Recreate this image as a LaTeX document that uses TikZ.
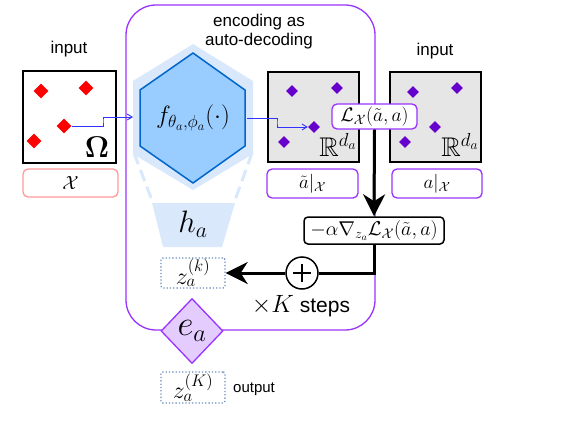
\RequirePackage{fix-cm}
\documentclass[tikz,border=0pt]{standalone}
\usepackage{amsmath,amssymb}
\usepackage{fontspec}
\setmainfont{Liberation Sans}
\usetikzlibrary{shapes.geometric,arrows.meta}
\definecolor{purp}{HTML}{9933FF}
\definecolor{purpfill}{HTML}{E5CCFF}
\definecolor{purpdot}{HTML}{6600CC}
\definecolor{hexfill}{HTML}{99CCFF}
\definecolor{hexline}{HTML}{0066CC}
\definecolor{glow}{HTML}{DAE8FC}
\definecolor{pinkline}{HTML}{FF9999}
\definecolor{greyfill}{HTML}{E6E6E6}
\definecolor{dotline}{HTML}{6C8EBF}
\definecolor{bluearrow}{HTML}{3333FF}
\newcommand{\fs}[1]{\fontsize{#1}{#1}\selectfont}
\tikzset{
  reddot/.style={diamond,fill=red,inner sep=0,minimum size=15},
  purpdotst/.style={diamond,fill=purpdot,inner sep=0,minimum size=12},
  databox/.style={draw=black,line width=1.5,inner sep=0},
  labbox/.style={draw=purp,line width=1.3,rounded corners=5,fill=white,inner sep=0,font=\fs{19}},
  dotbox/.style={draw=dotline,dotted,line width=1.3,rounded corners=2,inner sep=0,minimum width=64,minimum height=30,font=\fs{24}},
  bluearr/.style={draw=bluearrow,line width=0.9,-{Straight Barb[length=5,width=6]}},
  blackarr/.style={draw=black,line width=3,-{Stealth[length=22,width=22,inset=7]}},
  sanstext/.style={font=\fs{17}},
}
\begin{document}
\begin{tikzpicture}[x=1pt,y=-1pt]
\useasboundingbox (0,0) rectangle (581,423);
% container
\node[draw=purp,line width=1.3,rounded corners=30,minimum width=249,minimum height=325,inner sep=0] (enc) at (250.5,167.5) {};
\node[sanstext,align=center,inner sep=0] (enctxt) at (259,32) {encoding as\\[2pt]auto-decoding};
% left input
\node[sanstext,inner sep=0] (in1) at (69,49) {input};
\node[databox,minimum width=93,minimum height=92,fill=white] (box1) at (69.5,117) {};
\node[reddot] (r1) at (41,91) {};
\node[reddot] (r2) at (86,88) {};
\node[reddot] (r3) at (64,126) {};
\node[reddot] (r4) at (34,141) {};
\node[inner sep=0,font=\fs{30}] (omega) at (97,147) {$\boldsymbol{\Omega}$};
\node[draw=pinkline,line width=1.3,rounded corners=5,inner sep=0,minimum width=95,minimum height=28,font=\fs{19}] (xbox) at (70.5,183) {$\mathcal{X}$};
% hexagon
\fill[glow] (193,44) -- (253,81) -- (253,154) -- (193,190) -- (133,154) -- (133,81) -- cycle;
\draw[glow,line width=3,dash pattern=on 12pt off 6pt] (134,153) -- (153,203);
\draw[glow,line width=3,dash pattern=on 12pt off 6pt] (252,153) -- (234,203);
\filldraw[fill=hexfill,draw=hexline,line width=1.5] (193,53) -- (245,90) -- (245,146) -- (193,183) -- (140,146) -- (140,90) -- cycle;
\node[inner sep=0,font=\fs{25}] (hex) at (193,118) {$f_{\theta_a,\phi_a}(\cdot)$};
\coordinate (hexL) at (133,117);
\coordinate (hexR) at (247,118);
% trapezoid
\fill[glow] (152,203) -- (235,203) -- (222,247) -- (163,247) -- cycle;
\node[inner sep=0,font=\fs{31}] (ha) at (193,224) {$h_a$};
% z boxes
\node[dotbox] (zk) at (193,273) {$z_a^{(k)}$};
\node[diamond,fill=purpfill,draw=purp,line width=1.3,minimum width=62,minimum height=65,inner sep=0,font=\fs{35}] (ea) at (192,331) {$e_a$};
\node[dotbox,minimum height=31] (zK) at (193,387.5) {$z_a^{(K)}$};
\node[anchor=west,inner sep=0,font=\fs{15}] (out) at (233,389) {output};
% grey boxes
\node[databox,minimum width=91,minimum height=90,fill=greyfill] (g1) at (313.5,117) {};
\node[purpdotst] (p1) at (292,91) {};
\node[purpdotst] (p2) at (337,88) {};
\node[purpdotst] (p3) at (314,127) {};
\node[purpdotst] (p4) at (284,142) {};
\node[inner sep=0,font=\fs{27}] (rd1) at (338,145) {$\mathbb{R}^{d_a}$};
\node[sanstext,inner sep=0] (in2) at (435,51) {input};
\node[databox,minimum width=91,minimum height=90,fill=greyfill] (g2) at (435.5,117) {};
\node[purpdotst] (q1) at (413,92) {};
\node[purpdotst] (q2) at (457,88) {};
\node[purpdotst] (q3) at (435,127) {};
\node[purpdotst] (q4) at (405,142) {};
\node[inner sep=0,font=\fs{27}] (rd2) at (460,145) {$\mathbb{R}^{d_a}$};
\node[labbox,minimum width=91,minimum height=29] (atil) at (312.5,183.5) {$\tilde{a}|_{\mathcal{X}}$};
\node[labbox,minimum width=90,minimum height=29] (abox) at (437,183.5) {$a|_{\mathcal{X}}$};
% loss and gradient
\node[labbox,minimum width=85,minimum height=25,font=\fs{19.5}] (loss) at (374.5,116.5) {$\mathcal{L}_{\mathcal{X}}(\tilde{a},a)$};
\node[draw=black,line width=1.5,rounded corners=4,fill=white,inner sep=0,minimum width=140,minimum height=27,font=\fs{20}] (grad) at (374,230.5) {$-\alpha\nabla_{z_a}\mathcal{L}_{\mathcal{X}}(\tilde{a},a)$};
\node[draw=black,circle,line width=1.5,minimum size=32,inner sep=0,fill=white] (plus) at (302,273) {};
\draw[line width=1.6] ([xshift=-9pt]plus.center) -- ([xshift=9pt]plus.center) ([yshift=-9pt]plus.center) -- ([yshift=9pt]plus.center);
\node[inner sep=0,font=\fs{21}] (steps) at (301,306) {\fontsize{25}{25}\selectfont$\times K$\fontsize{21}{21}\selectfont{} steps};
% connectors
\coordinate (mid1) at (103,120);
\coordinate (mid2) at (277,122);
\draw[bluearr] (r3.east) -| (mid1) |- (hexL);
\draw[bluearr] (hexR) -| (mid2) |- (p3.west);
\draw[blackarr] (loss.south) -- (grad.north);
\draw[line width=3] (grad.south) |- (plus.east);
\draw[blackarr] (plus.west) -- (zk.east);
\end{tikzpicture}
\end{document}
